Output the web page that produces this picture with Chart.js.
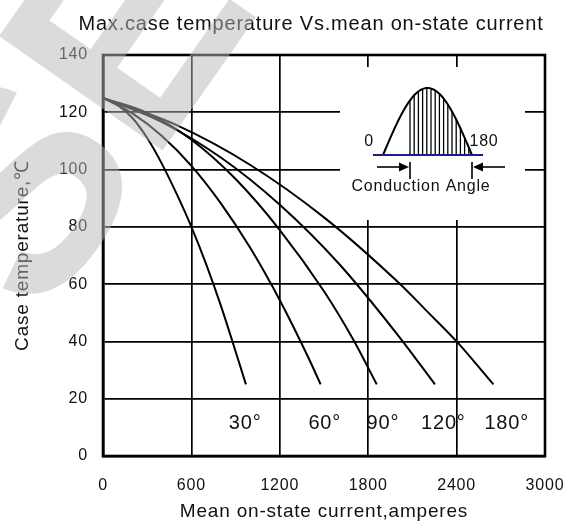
<!DOCTYPE html>
<html>
<head>
<meta charset="utf-8">
<title>Max.case temperature Vs.mean on-state current</title>
<script src="https://cdn.jsdelivr.net/npm/chart.js@4.4.1/dist/chart.umd.min.js"></script>
<style>
  html, body { margin: 0; padding: 0; background: #fff; }
</style>
</head>
<body>
<canvas id="derating" width="569" height="524"></canvas>
<script>
// conduction angles, one curve each
const angles = ['30°', '60°', '90°', '120°', '180°'];

// mean on-state current (A) / max case temperature (°C)
const current30  = [0, 100, 200, 300, 400, 500, 600, 700, 800, 900, 970];
const temp30     = [125, 122.5, 118, 111, 102, 91.5, 80, 67, 52.5, 36.5, 25];
const current60  = [0, 200, 400, 600, 800, 1000, 1200, 1400, 1477];
const temp60     = [125, 119.6, 111.7, 101.3, 88.2, 72.6, 54.4, 33.7, 25];
const current90  = [0, 300, 600, 900, 1200, 1500, 1700, 1858];
const temp90     = [125, 119.8, 110.4, 96.7, 78.9, 57.5, 40.5, 25];
const current120 = [0, 400, 800, 1200, 1600, 2000, 2253];
const temp120    = [125, 116.6, 104.2, 87.7, 67.2, 42.3, 25];
const current180 = [0, 500, 1000, 1500, 2000, 2200, 2400, 2650];
const temp180    = [125, 115.5, 101.6, 83.3, 60.8, 50.5, 40, 25];

const currents = [current30, current60, current90, current120, current180];
const temps    = [temp30, temp60, temp90, temp120, temp180];

// where the angle captions sit (x in amperes), all at the same temperature
const captionX = [965, 1505, 1900, 2310, 2740];
const captionY = 11.5;

const xTicks = [0, 600, 1200, 1800, 2400, 3000];
const yTicks = [0, 20, 40, 60, 80, 100, 120, 140];

const ink = '#111';
const fontFamily = "'Liberation Sans', Arial, sans-serif";

// letter spacing like the scanned datasheet
const spacing = {
  id: 'spacing',
  beforeDraw(chart) { chart.ctx.letterSpacing = '0.8px'; }
};

// white box behind the waveform sketch, frame, captions
const extras = {
  id: 'extras',
  beforeDatasetsDraw(chart) {
    const { ctx, chartArea: a } = chart;
    ctx.save();
    ctx.fillStyle = '#fff';
    ctx.fillRect(a.left + 237, a.top + 12, 185, 153);
    ctx.restore();
  },
  afterDatasetsDraw(chart) {
    const { ctx, chartArea: a, scales } = chart;
    const L = a.left, T = a.top;
    ctx.save();

    // frame
    ctx.strokeStyle = '#000';
    ctx.lineWidth = 2.6;
    ctx.strokeRect(a.left, a.top, a.right - a.left, a.bottom - a.top);

    // half sine with hatching
    const baseY = T + 100, x0 = L + 280, x1 = L + 369, h = 67;
    const sineAt = x => baseY - h * Math.sin(Math.PI * (x - x0) / (x1 - x0));
    ctx.lineWidth = 1.3;
    for (let x = L + 307; x <= x1 - 1; x += 4.2) {
      ctx.beginPath();
      ctx.moveTo(x, baseY);
      ctx.lineTo(x, sineAt(x));
      ctx.stroke();
    }
    ctx.lineWidth = 2;
    ctx.beginPath();
    for (let i = 0; i <= 60; i++) {
      const x = x0 + (x1 - x0) * i / 60;
      if (i === 0) ctx.moveTo(x, baseY); else ctx.lineTo(x, sineAt(x));
    }
    ctx.stroke();

    ctx.strokeStyle = '#1c1c8c';
    ctx.lineWidth = 2;
    ctx.beginPath();
    ctx.moveTo(L + 270, baseY);
    ctx.lineTo(L + 380, baseY);
    ctx.stroke();

    // conduction angle markers
    ctx.strokeStyle = '#000';
    ctx.fillStyle = '#000';
    ctx.lineWidth = 1.6;
    const ay = T + 112;
    const arrow = (from, to) => {
      const dir = Math.sign(to - from);
      ctx.beginPath();
      ctx.moveTo(from, ay);
      ctx.lineTo(to - dir * 8, ay);
      ctx.stroke();
      ctx.beginPath();
      ctx.moveTo(to, ay);
      ctx.lineTo(to - dir * 10, ay - 4.5);
      ctx.lineTo(to - dir * 10, ay + 4.5);
      ctx.closePath();
      ctx.fill();
    };
    [L + 307, L + 369].forEach(x => {
      ctx.beginPath();
      ctx.moveTo(x, T + 107);
      ctx.lineTo(x, T + 124);
      ctx.stroke();
    });
    arrow(L + 274, L + 306);
    arrow(L + 402, L + 370);

    ctx.fillStyle = ink;
    ctx.textAlign = 'center';
    ctx.textBaseline = 'middle';
    ctx.font = `16px ${fontFamily}`;
    ctx.fillText('0', L + 266, T + 87);
    ctx.fillText('180', L + 381, T + 87);
    ctx.fillText('Conduction Angle', L + 318, T + 132);

    // angle captions
    ctx.font = `20px ${fontFamily}`;
    angles.forEach((t, i) => {
      ctx.fillText(t, scales.x.getPixelForValue(captionX[i]), scales.y.getPixelForValue(captionY));
    });

    // chart title
    ctx.font = `20px ${fontFamily}`;
    ctx.fillText('Max.case temperature Vs.mean on-state current', 311, 24);
    ctx.restore();
  },
  afterDraw(chart) {
    // faint diagonal watermark over the top-left corner
    const ctx = chart.ctx;
    ctx.save();
    ctx.translate(-25, 279);
    ctx.rotate(-55 * Math.PI / 180);
    ctx.fillStyle = 'rgba(184,184,184,0.5)';
    ctx.font = `bold 290px ${fontFamily}`;
    ctx.textBaseline = 'middle';
    ctx.letterSpacing = '0px';
    ctx.fillText('SEMI', 0, 0);
    ctx.restore();
  }
};

const tickFont = { family: fontFamily, size: 16 };
const titleFont = { family: fontFamily, size: 19 };

new Chart(document.getElementById('derating'), {
  type: 'scatter',
  data: {
    datasets: angles.map((a, i) => ({
      label: a,
      data: currents[i].map((x, j) => ({ x: x, y: temps[i][j] })),
      showLine: true,
      borderColor: '#000',
      borderWidth: 2,
      pointRadius: 0,
      cubicInterpolationMode: 'monotone',
      fill: false
    }))
  },
  options: {
    responsive: false,
    animation: false,
    devicePixelRatio: 1,
    layout: { padding: { left: 8, right: 24, top: 55, bottom: 0 } },
    plugins: {
      legend: { display: false },
      tooltip: { enabled: false }
    },
    scales: {
      x: {
        type: 'linear',
        min: 0,
        max: 3000,
        afterBuildTicks: s => { s.ticks = xTicks.map(v => ({ value: v })); },
        afterFit: s => { s.height = 68; s.paddingLeft = 0; s.paddingRight = 0; },
        grid: { color: '#000', lineWidth: 1.7, drawTicks: false },
        border: { color: '#000', width: 2.6 },
        ticks: { color: ink, font: tickFont, padding: 20, maxRotation: 0, callback: v => String(v) },
        title: {
          display: true,
          text: 'Mean on-state current,amperes',
          color: ink,
          font: titleFont,
          padding: { top: 0, bottom: 1 }
        }
      },
      y: {
        type: 'linear',
        min: 0,
        max: 140,
        afterBuildTicks: s => { s.ticks = yTicks.map(v => ({ value: v })); },
        afterFit: s => { s.width = 95; s.paddingTop = 0; s.paddingBottom = 0; },
        grid: { color: '#000', lineWidth: 1.7, drawTicks: false },
        border: { color: '#000', width: 2.6 },
        ticks: { color: ink, font: tickFont, padding: 15, callback: v => String(v) },
        title: {
          display: true,
          text: 'Case temperature,℃',
          color: ink,
          font: titleFont,
          padding: { top: 3, bottom: 0 }
        }
      }
    }
  },
  plugins: [spacing, extras]
});
</script>
</body>
</html>
